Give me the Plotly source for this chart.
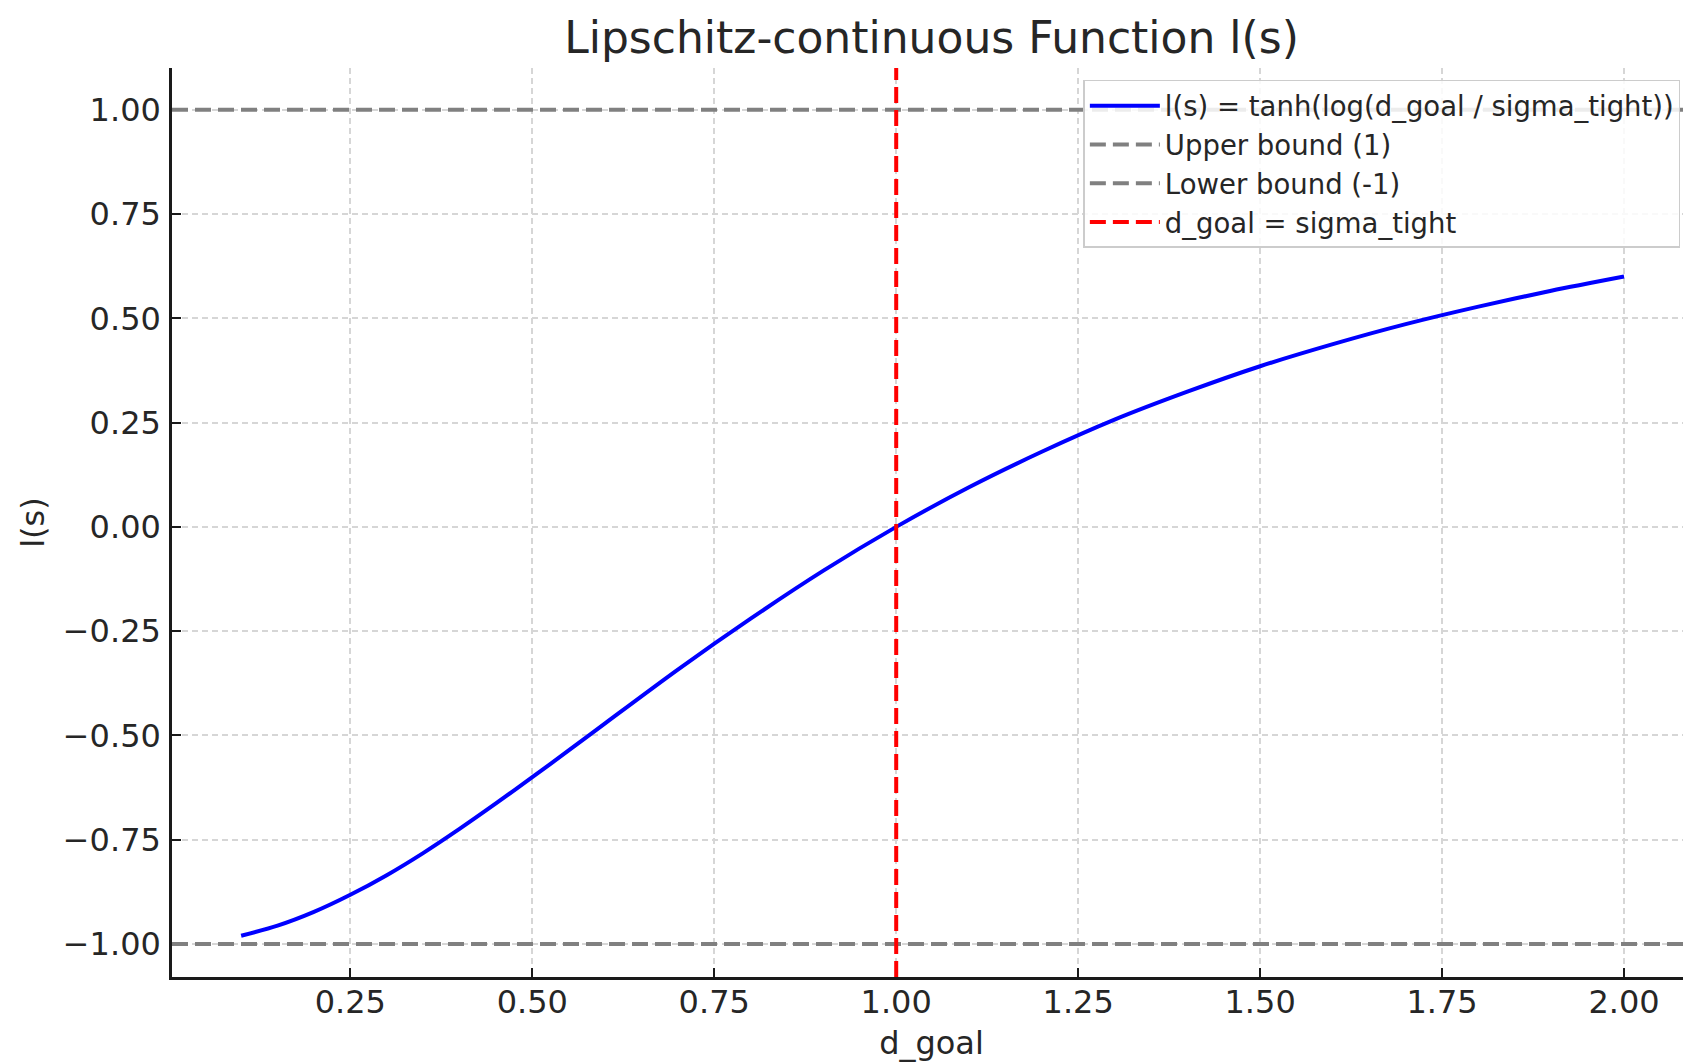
import plotly.graph_objects as go

# ---- data ----
d_goal = [0.10, 0.15, 0.20, 0.25, 0.30, 0.35, 0.40, 0.45, 0.50, 0.55, 0.60, 0.70, 0.80, 0.90, 1.00,
          1.10, 1.20, 1.30, 1.40, 1.50, 1.60, 1.70, 1.80, 1.90, 2.00]
l_s = [-0.980, -0.956, -0.923, -0.882, -0.835, -0.782, -0.724, -0.663, -0.600, -0.536, -0.471,
       -0.342, -0.220, -0.105, 0.000,
       0.095, 0.180, 0.257, 0.324, 0.385, 0.438, 0.486, 0.528, 0.566, 0.600]
upper_bound = 1.0
lower_bound = -1.0
sigma_tight = 1.0

curve_name = "l(s) = tanh(log(d_goal / sigma_tight))"
upper_name = "Upper bound (1)"
lower_name = "Lower bound (-1)"
vline_name = "d_goal = sigma_tight"

x_tickvals = [0.25, 0.50, 0.75, 1.00, 1.25, 1.50, 1.75, 2.00]
y_tickvals = [-1.00, -0.75, -0.50, -0.25, 0.00, 0.25, 0.50, 0.75, 1.00]

FONT = "DejaVu Sans"
TXT = "#262626"
DASH = "16px,7px"

fig = go.Figure()
fig.add_trace(go.Scatter(
    x=d_goal, y=l_s, mode="lines", name=curve_name,
    line=dict(color="#0000ff", width=4, shape="spline", smoothing=0.8), legendrank=1,
))

fig.add_hline(y=upper_bound, line=dict(color="#808080", width=4, dash=DASH),
              showlegend=True, name=upper_name, legendrank=2, layer="above")
fig.add_hline(y=lower_bound, line=dict(color="#808080", width=4, dash=DASH),
              showlegend=True, name=lower_name, legendrank=3, layer="above")
fig.add_vline(x=sigma_tight, line=dict(color="#ff0000", width=4, dash=DASH),
              showlegend=True, name=vline_name, legendrank=4, layer="above")

axis_common = dict(
    showline=True, linecolor="#1a1a1a", linewidth=2.5, mirror=False,
    showgrid=True, gridcolor="#d6d6d6", gridwidth=1.5, griddash="6px,4px",
    zeroline=False, ticks="inside", ticklen=9, tickwidth=2, tickcolor="#1a1a1a",
    tickfont=dict(family=FONT, size=32, color=TXT), tickformat=".2f",
)

# page body has an 8px margin, so the figure is drawn 8px in from the top-left
fig.update_layout(
    width=1683, height=1056,
    paper_bgcolor="white", plot_bgcolor="white",
    margin=dict(l=164, r=0, t=60, b=87),
    font=dict(family=FONT, color=TXT),
    title=dict(text="Lipschitz-continuous Function l(s)", x=0.5, xref="paper",
               xanchor="center", y=1 - 30 / 1056, yref="container", yanchor="middle",
               font=dict(family=FONT, size=44, color=TXT)),
    xaxis=dict(range=[0.005, 2.092], tickvals=x_tickvals,
               title=dict(text="d_goal", standoff=12, font=dict(family=FONT, size=32, color=TXT)),
               automargin=False, ticklabelstandoff=-5, **axis_common),
    yaxis=dict(range=[-1.079, 1.10], tickvals=y_tickvals,
               title=dict(text="l(s)", standoff=9, font=dict(family=FONT, size=32, color=TXT)),
               automargin=False, ticklabelstandoff=2, **axis_common),
    legend=dict(x=0.993, xanchor="right", y=0.987, yanchor="top",
                bgcolor="rgba(255,255,255,0.85)", bordercolor="#cccccc", borderwidth=1.5,
                font=dict(family=FONT, size=27.5, color=TXT), tracegroupgap=0,
                itemwidth=70),
    showlegend=True,
)

fig.write_html("out.html")
